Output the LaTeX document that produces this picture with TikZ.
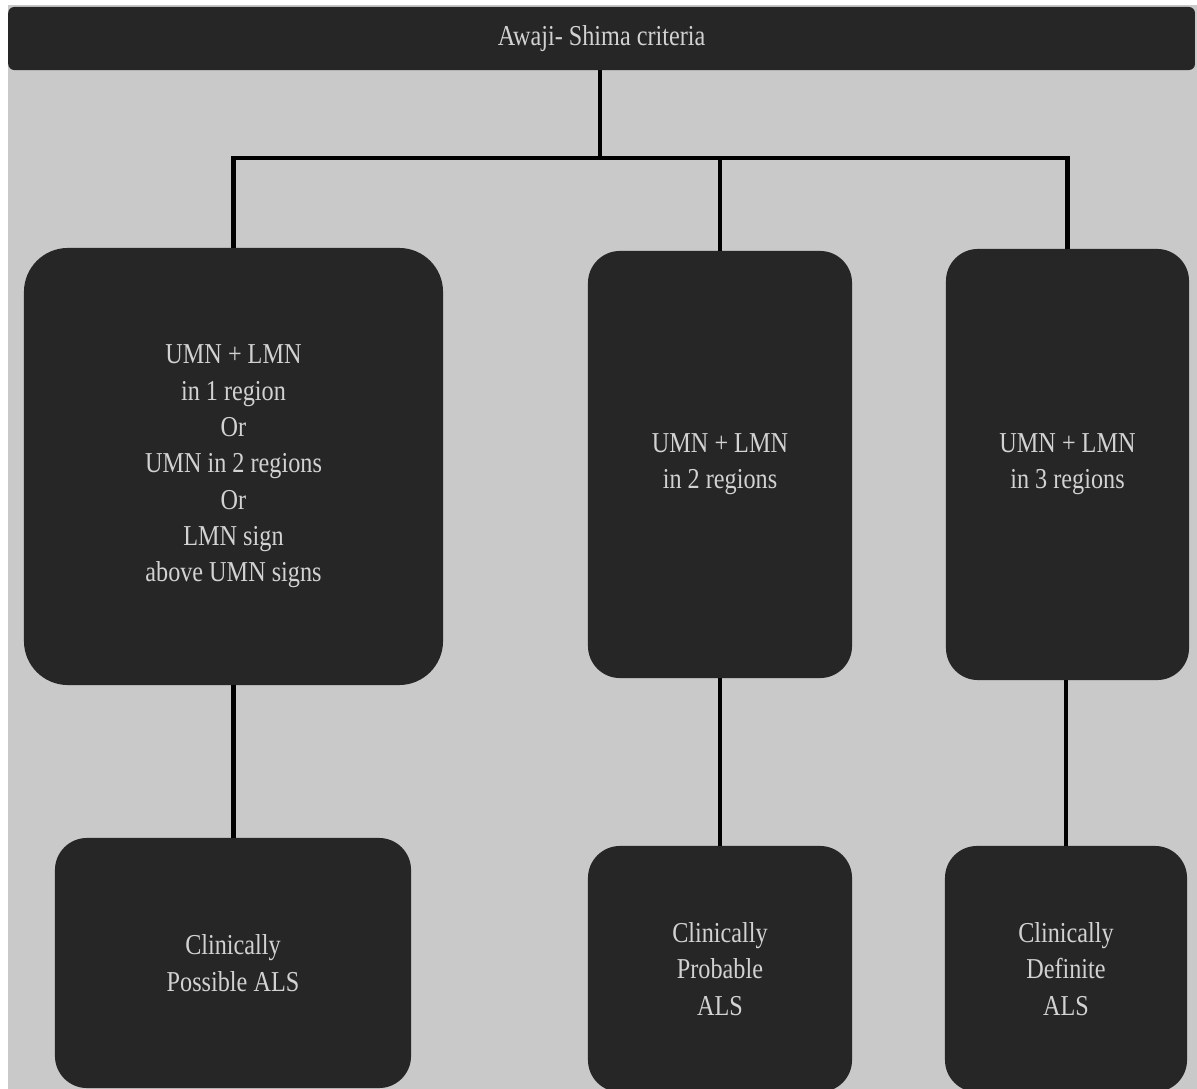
\documentclass[tikz,border=0pt]{standalone}
\usepackage{fontspec}
\setmainfont{Liberation Serif}[FakeStretch=0.84]
\definecolor{paper}{HTML}{C9C9C9}
\definecolor{boxfill}{HTML}{262626}
\definecolor{boxtext}{HTML}{D2D2D2}

\begin{document}
\begin{tikzpicture}[x=0.025cm, y=-0.025cm,
  crit/.style={fill=boxfill, text=boxtext, inner sep=0pt, align=center,
    rounded corners=0.8cm, font=\fontsize{20.5}{25.8}\selectfont},
  conn/.style={draw=black, line width=3.2pt}]
\useasboundingbox (0,0) rectangle (1197,1089);
\clip (0,0) rectangle (1197,1089);
\fill[white] (0,0) rectangle (1197,1089);
\fill[paper] (7.6,5) rectangle (1197,1089);

\node[crit, rounded corners=0.15cm, minimum width=29.66cm, minimum height=1.575cm]
  (title) at (601.6,38.5) {Awaji- Shima criteria};

\node[crit, rounded corners=1.1cm, minimum width=10.475cm, minimum height=10.925cm]
  (b1) at (233.5,466.5) {UMN + LMN\\in 1 region\\Or\\UMN in 2 regions\\Or\\LMN sign\\above UMN signs};
\node[crit, minimum width=6.6cm, minimum height=10.675cm]
  (b2) at (720,464.5) {UMN + LMN\\in 2 regions};
\node[crit, minimum width=6.075cm, minimum height=10.775cm]
  (b3) at (1067.5,464.5) {UMN + LMN\\in 3 regions};

\node[crit, minimum width=8.9cm, minimum height=6.25cm]
  (b4) at (233,963) {Clinically\\Possible ALS};
\node[crit, minimum width=6.6cm, minimum height=6.15cm]
  (b5) at (720,969) {Clinically\\Probable\\ALS};
\node[crit, minimum width=6.05cm, minimum height=6.15cm]
  (b6) at (1066,969) {Clinically\\Definite\\ALS};

\coordinate (hub) at (600,158);
\draw[conn] (title.south -| hub) -- (hub);
\draw[conn] (b1.north) |- (hub) -| (b3.north);
\draw[conn] (hub -| b2.north) -- (b2.north);

\draw[conn] (b1.south) -- (b1.south |- b4.north);
\draw[conn] (b2.south) -- (b5.north);
\draw[conn] (b3.south -| b6.north) -- (b6.north);
\end{tikzpicture}
\end{document}
